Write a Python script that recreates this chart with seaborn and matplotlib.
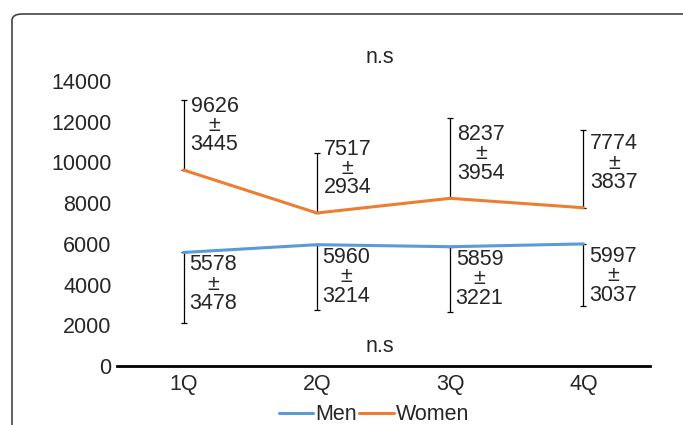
import numpy as np
import pandas as pd
import seaborn as sns
import matplotlib.pyplot as plt
from matplotlib.patches import FancyBboxPatch

sns.set_style('white')
plt.rcParams['font.family'] = ['Liberation Sans', 'DejaVu Sans']

# 数据
quarters = ['1Q', '2Q', '3Q', '4Q']
men_mean = [5578, 5960, 5859, 5997]
men_sd = [3478, 3214, 3221, 3037]
women_mean = [9626, 7517, 8237, 7774]
women_sd = [3445, 2934, 3954, 3837]

df = pd.DataFrame({
    'quarter': quarters * 2,
    'value': men_mean + women_mean,
    'group': ['Men'] * 4 + ['Women'] * 4,
})

blue = '#5B9BD5'
orange = '#ED7D31'
fs = 15.5

fig = plt.figure(figsize=(6.83, 4.25), dpi=100)
ax = fig.add_axes([117 / 683, 1 - 366 / 425, 533 / 683, 285 / 425])

# 外框（圆角）
box = FancyBboxPatch((12 / 683, -0.2), 1.2, 1 - 14 / 425 + 0.2,
                     boxstyle='round,pad=0,rounding_size=0.015',
                     transform=fig.transFigure, fill=False,
                     edgecolor='#444444', linewidth=1.2, clip_on=False)
fig.patches.append(box)

x = np.arange(len(quarters))

# 误差线：女性向上，男性向下
ax.errorbar(x, women_mean, yerr=[np.zeros(4), women_sd], fmt='none',
            ecolor='black', elinewidth=0.9, capsize=2.5, capthick=0.9, zorder=2)
ax.errorbar(x, men_mean, yerr=[men_sd, np.zeros(4)], fmt='none',
            ecolor='black', elinewidth=0.9, capsize=2.5, capthick=0.9, zorder=2)

sns.lineplot(data=df, x='quarter', y='value', hue='group',
             palette={'Men': blue, 'Women': orange}, linewidth=2.2,
             ax=ax, zorder=3, sort=False)

# 数值标注
for i in range(4):
    ax.annotate(f'{women_mean[i]}\n±\n{women_sd[i]}', (x[i], women_mean[i]),
                xytext=(5, 32), textcoords='offset points',
                ha='left', va='center', multialignment='center',
                fontsize=fs, linespacing=0.9)
    ax.annotate(f'{men_mean[i]}\n±\n{men_sd[i]}', (x[i], men_mean[i]),
                xytext=(4, -23), textcoords='offset points',
                ha='left', va='center', multialignment='center',
                fontsize=fs, linespacing=0.9)

ax.text(1.47, 15150, 'n.s', ha='center', va='center', fontsize=fs, clip_on=False)
ax.text(1.47, 950, 'n.s', ha='center', va='center', fontsize=fs)

ax.set_xlim(-0.5, 3.5)
ax.set_ylim(0, 14000)
ax.set_yticks(range(0, 14001, 2000))
ax.tick_params(axis='y', length=0, labelsize=fs, pad=4)
ax.tick_params(axis='x', length=0, labelsize=fs, pad=6)
ax.set_xlabel('')
ax.set_ylabel('')
for s in ['top', 'right', 'left']:
    ax.spines[s].set_visible(False)
ax.spines['bottom'].set_color('black')
ax.spines['bottom'].set_linewidth(2.0)

ax.legend_.remove()
handles = [plt.Line2D([], [], color=blue, lw=2.2), plt.Line2D([], [], color=orange, lw=2.2)]
fig.legend(handles, ['Men', 'Women'], loc='center', bbox_to_anchor=(374 / 683, 1 - 415 / 425),
           ncol=2, frameon=False, fontsize=fs, handlelength=1.6, handletextpad=0.1,
           columnspacing=0.1, borderpad=0)

fig.savefig('out.png', dpi=100)
